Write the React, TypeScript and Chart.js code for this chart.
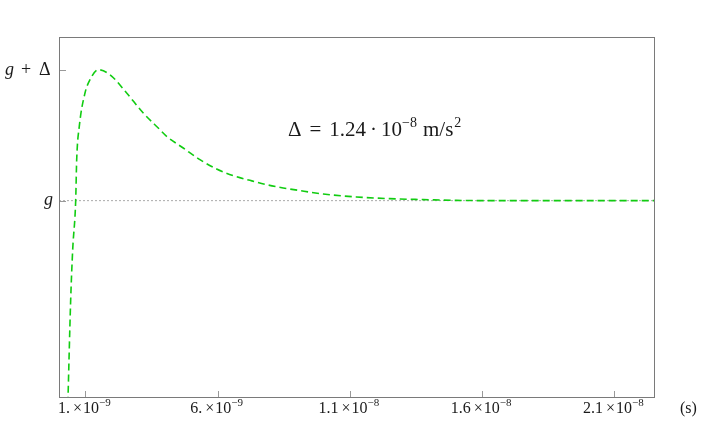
import React, { useEffect, useRef } from "react";
import { Chart, registerables } from "chart.js";

Chart.register(...registerables);

// time in nanoseconds (units of 1e-9 s)
const timesNs = [
  0.335, 0.442, 0.518, 0.631, 0.669, 0.767, 0.983, 1.172, 1.485, 1.927, 2.559,
  3.186, 3.817, 4.07, 4.698, 5.329, 5.96, 6.587, 7.218, 7.85, 8.477, 9.04,
  9.99, 11.25, 12.51, 13.77, 15.03, 16.29, 19.0, 22.5,
];
// acceleration offset from g, in units of Δ
const deltaUnits = [
  -1.55, -0.756, -0.374, 0.0, 0.313, 0.567, 0.822, 0.924, 1.0, 0.962, 0.822,
  0.669, 0.542, 0.491, 0.402, 0.313, 0.242, 0.191, 0.155, 0.122, 0.097, 0.079,
  0.051, 0.028, 0.015, 0.008, 0.002, 0.0, 0.0, 0.0,
];
const referenceLineX = [0, 22.5];
const referenceLineY = [0, 0];

const xTicks = [1, 6, 11, 16, 21];
const xTickMantissas = ["1.", "6.", "1.1", "1.6", "2.1"];
const xTickExponents = ["−9", "−9", "−8", "−8", "−8"];
const yTicks = [0, 1];
const yTickLabels = ["g", "g + Δ"];

const annotationParts: { t: string; sup?: boolean; gap: number }[] = [
  { t: "Δ", gap: 8 },
  { t: "=", gap: 8 },
  { t: "1.24", gap: 4 },
  { t: "·", gap: 4 },
  { t: "10", gap: 0 },
  { t: "−8", sup: true, gap: 6 },
  { t: "m/s", gap: 1 },
  { t: "2", sup: true, gap: 0 },
];

const SERIF = "'Liberation Serif'";

function drawXLabel(ctx: any, cx: number, baseline: number, mant: string, exp: string) {
  const big = `16px ${SERIF}`;
  const small = `11px ${SERIF}`;
  ctx.font = big;
  const wM = ctx.measureText(mant).width;
  const wX = ctx.measureText("×").width;
  const w10 = ctx.measureText("10").width;
  ctx.font = small;
  const wE = ctx.measureText(exp).width;
  const gap = 3;
  const total = wM + gap + wX + 1 + w10 + wE;
  let x = cx - total / 2;
  ctx.font = big;
  ctx.fillText(mant, x, baseline);
  x += wM + gap;
  ctx.fillText("×", x, baseline);
  x += wX + 1;
  ctx.fillText("10", x, baseline);
  x += w10;
  ctx.font = small;
  ctx.fillText(exp, x, baseline - 7);
}

const decorPlugin = {
  id: "decor",
  afterDraw(chart: any) {
    const { ctx, chartArea } = chart;
    const xs = chart.scales.x;
    const ys = chart.scales.y;
    ctx.save();
    // inward ticks
    ctx.strokeStyle = "#999";
    ctx.lineWidth = 1;
    ctx.setLineDash([]);
    ctx.beginPath();
    yTicks.forEach((v) => {
      const py = Math.round(ys.getPixelForValue(v)) + 0.5;
      ctx.moveTo(chartArea.left, py);
      ctx.lineTo(chartArea.left + 7, py);
    });
    xTicks.forEach((v) => {
      const px = Math.round(xs.getPixelForValue(v)) + 0.5;
      ctx.moveTo(px, chartArea.bottom);
      ctx.lineTo(px, chartArea.bottom - 6);
    });
    ctx.stroke();
    // frame
    ctx.strokeStyle = "#7a7a7a";
    ctx.strokeRect(
      Math.round(chartArea.left) + 0.5,
      Math.round(chartArea.top) + 0.5,
      Math.round(chartArea.right - chartArea.left),
      Math.round(chartArea.bottom - chartArea.top)
    );

    ctx.fillStyle = "#1a1a1a";
    ctx.textBaseline = "alphabetic";
    ctx.textAlign = "left";

    // x tick labels
    xTicks.forEach((v, i) => {
      drawXLabel(ctx, xs.getPixelForValue(v) - 1, 413, xTickMantissas[i], xTickExponents[i]);
    });

    // y tick labels
    const yG = ys.getPixelForValue(yTicks[0]) + 4;
    ctx.font = `italic 18px ${SERIF}`;
    ctx.textAlign = "right";
    ctx.fillText(yTickLabels[0], 53, yG);
    const yGD = ys.getPixelForValue(yTicks[1]) + 5;
    ctx.textAlign = "left";
    ctx.font = `italic 18px ${SERIF}`;
    ctx.fillText("g", 5, yGD);
    ctx.font = `18px ${SERIF}`;
    ctx.fillText("+", 21, yGD);
    ctx.fillText("Δ", 39, yGD);

    // annotation
    const base = 136;
    let ax = 288;
    annotationParts.forEach((p) => {
      ctx.font = p.sup ? `14px ${SERIF}` : `21px ${SERIF}`;
      ctx.fillText(p.t, ax, p.sup ? base - 9 : base);
      ax += ctx.measureText(p.t).width + p.gap;
    });

    // axis unit label
    ctx.font = `16px ${SERIF}`;
    ctx.fillText("(s)", 680, 413);
    ctx.restore();
  },
};

export default function App() {
  const ref = useRef<HTMLCanvasElement | null>(null);
  useEffect(() => {
    if (!ref.current) return;
    const chart = new Chart(ref.current, {
      type: "line",
      data: {
        datasets: [
          {
            data: timesNs.map((t, i) => ({ x: t, y: deltaUnits[i] })),
            borderColor: "#11cc11",
            borderWidth: 1.6,
            borderDash: [7, 4],
            pointRadius: 0,
            fill: false,
            cubicInterpolationMode: "monotone",
          },
          {
            data: referenceLineX.map((t, i) => ({ x: t, y: referenceLineY[i] })),
            borderColor: "#aaaaaa",
            borderWidth: 1,
            borderDash: [2, 2],
            pointRadius: 0,
            fill: false,
          },
        ],
      },
      options: {
        animation: false,
        responsive: true,
        maintainAspectRatio: false,
        layout: { padding: { top: 37, right: 51, left: 0, bottom: 0 } },
        plugins: { legend: { display: false }, tooltip: { enabled: false } },
        scales: {
          x: {
            type: "linear",
            min: 0,
            max: 22.5,
            grid: { display: false, drawTicks: false },
            border: { display: false },
            afterBuildTicks: (s: any) => {
              s.ticks = xTicks.map((v) => ({ value: v }));
            },
            afterFit: (s: any) => {
              s.height = 30;
            },
            ticks: { display: false },
          },
          y: {
            type: "linear",
            min: -1.5,
            max: 1.25,
            grid: { display: false, drawTicks: false },
            border: { display: false },
            afterBuildTicks: (s: any) => {
              s.ticks = yTicks.map((v) => ({ value: v }));
            },
            afterFit: (s: any) => {
              s.width = 59;
            },
            ticks: { display: false },
          },
        },
      },
      plugins: [decorPlugin],
    });
    return () => chart.destroy();
  }, []);
  return (
    <div style={{ position: "absolute", left: 0, top: 0, width: 705, height: 427 }}>
      <canvas ref={ref} />
    </div>
  );
}
